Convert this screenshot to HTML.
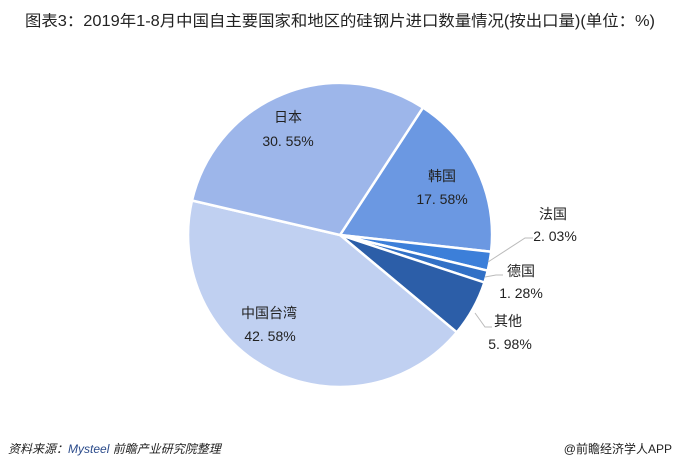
<!DOCTYPE html>
<html><head><meta charset="utf-8"><style>
html,body{margin:0;padding:0;background:#fff;}
svg{display:block;}
text{font-family:"Liberation Sans","Noto Sans CJK SC",sans-serif;fill:#222;}
</style></head><body>
<svg width="680" height="470" viewBox="0 0 680 470" xmlns="http://www.w3.org/2000/svg">
<text x="25" y="26" font-size="15.5" fill="#333" textLength="630" lengthAdjust="spacingAndGlyphs">图表3：2019年1-8月中国自主要国家和地区的硅钢片进口数量情况(按出口量)(单位：%)</text>
<g stroke="#fff" stroke-width="2.5" stroke-linejoin="round">
<path d="M340 235 L423.0 107.6 A152 152 0 0 1 491.1 251.7 Z" fill="#6b98e2"/>
<path d="M340 235 L491.1 251.7 A152 152 0 0 1 487.7 270.7 Z" fill="#3c7fd9"/>
<path d="M340 235 L487.7 270.7 A152 152 0 0 1 484.4 282.5 Z" fill="#3170c6"/>
<path d="M340 235 L484.4 282.5 A152 152 0 0 1 456.8 332.3 Z" fill="#2c5ea8"/>
<path d="M340 235 L456.8 332.3 A152 152 0 0 1 192.0 200.5 Z" fill="#c0d0f1"/>
<path d="M340 235 L192.0 200.5 A152 152 0 0 1 423.0 107.6 Z" fill="#9db6ea"/>
</g>
<g stroke="#bbb" stroke-width="1" fill="none">
<polyline points="488,262 525,238 533,238"/>
<polyline points="485,277 496,275 503,275"/>
<polyline points="475,313 485,327 492,327"/>
</g>
<g font-size="14" text-anchor="middle">
<text x="288" y="122">日本</text><text x="288" y="146">30. 55%</text>
<text x="442" y="181">韩国</text><text x="442" y="204">17. 58%</text>
<text x="269" y="318">中国台湾</text><text x="270" y="341">42. 58%</text>
<text x="553" y="219">法国</text><text x="555" y="241">2. 03%</text>
<text x="521" y="276">德国</text><text x="521" y="298">1. 28%</text>
<text x="508" y="326">其他</text><text x="510" y="349">5. 98%</text>
</g>
<text x="8" y="453" font-size="12" font-style="italic" fill="#333">资料来源：<tspan fill="#2a4a8a">Mysteel</tspan> 前瞻产业研究院整理</text>
<text x="672" y="453" font-size="12" text-anchor="end" fill="#333">@前瞻经济学人APP</text>
</svg>
</body></html>
